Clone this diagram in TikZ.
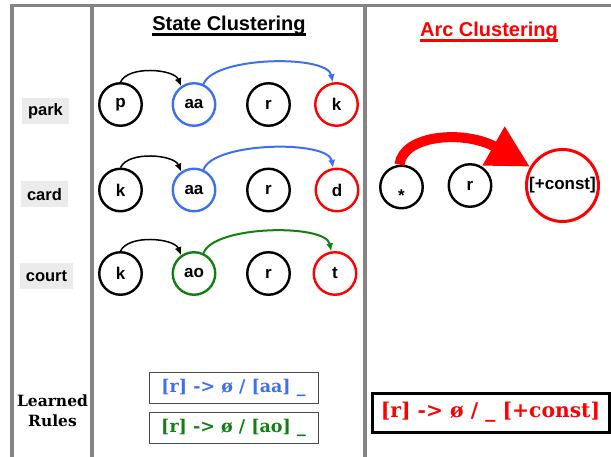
\documentclass[tikz,border=0pt]{standalone}
\usepackage{fontspec}
\newfontfamily\headfont{Liberation Sans}
\newfontfamily\rulefont{DejaVu Serif}
\usetikzlibrary{arrows.meta,calc}

\definecolor{framegray}{HTML}{858585}
\definecolor{stateblue}{RGB}{61,112,240}
\definecolor{stategreen}{RGB}{17,128,17}
\definecolor{labelgray}{HTML}{EBEBEB}
\definecolor{rulegray}{HTML}{4A4A4A}

\tikzset{
  framestroke/.style={draw=framegray,line width=3.6pt},
  heading/.style={anchor=base,inner sep=0pt,font=\headfont\bfseries\fontsize{20}{24}\selectfont},
  wordlabel/.style={fill=labelgray,minimum height=26pt,inner xsep=6pt,inner ysep=0pt,
    font=\headfont\bfseries\fontsize{16.5}{18}\selectfont},
  phone/.style={circle,draw=black,line width=2.4pt,minimum size=42.5pt,inner sep=0pt,
    font=\headfont\bfseries\fontsize{17}{17}\selectfont},
  bluephone/.style={phone,draw=stateblue},
  greenphone/.style={phone,draw=stategreen},
  redphone/.style={phone,draw=red},
  hop/.style={line width=1.5pt,-{Latex[length=8pt,width=7pt]}},
  rulebox/.style={draw=rulegray,line width=1pt,minimum width=169pt,minimum height=31pt,inner sep=0pt,
    font=\rulefont\bfseries\fontsize{17.5}{20}\selectfont},
}

\begin{document}
\begin{tikzpicture}[x=1pt,y=-1pt]
\useasboundingbox (0,0) rectangle (611,457);

% table frame
\draw[framestroke] (12,457) -- (12,5.6) -- (611,5.6);
\draw[framestroke] (92,5.6) -- (92,457);
\draw[framestroke] (365,5.6) -- (365,457);

% column headings
\node[heading] (sc) at (229,31) {State Clustering};
\draw[line width=2.6pt] ($(sc.base west)+(0,3.6)$) -- ($(sc.base east)+(0,3.6)$);
\node[heading,text=red] (ac) at (489,37) {Arc Clustering};
\draw[red,line width=2.6pt] ($(ac.base west)+(0,3.6)$) -- ($(ac.base east)+(0,3.6)$);

% words
\node[wordlabel] (park) at (45.5,111) {park};
\node[wordlabel] (card) at (44.5,194.5) {card};
\node[wordlabel] (court) at (46.5,276) {court};

% park
\node[phone] (p1) at (120.5,104.5) {p};
\node[bluephone] (v1) at (194,104.5) {aa};
\node[phone] (r1) at (268.5,104.5) {r};
\node[redphone] (c1) at (336.5,104.5) {k};
\draw[hop] (p1.north) .. controls +(8,-17) and +(-7,-17) .. (v1.125);
\draw[hop,stateblue,line width=2pt] (v1.65) .. controls +(10,-28) and +(-5,-28) .. (c1.100);

% card
\node[phone] (p2) at (120.5,190) {k};
\node[bluephone] (v2) at (194,190) {aa};
\node[phone] (r2) at (268.5,190) {r};
\node[redphone] (c2) at (337,190) {d};
\draw[hop] (p2.north) .. controls +(8,-17) and +(-7,-17) .. (v2.125);
\draw[hop,stateblue,line width=2pt] (v2.65) .. controls +(10,-28) and +(-5,-28) .. (c2.100);

% court
\node[phone] (p3) at (120.5,273.5) {k};
\node[greenphone] (v3) at (194,273.5) {ao};
\node[phone] (r3) at (268.5,273.5) {r};
\node[redphone] (c3) at (335,273.5) {t};
\draw[hop] (p3.north) .. controls +(8,-17) and +(-7,-17) .. (v3.125);
\draw[hop,stategreen,line width=2pt] (v3.65) .. controls +(10,-28) and +(-5,-28) .. (c3.100);

% arc clustering
\node[phone] (any) at (401.5,187) {\smash{\raisebox{-15pt}{*}}};
\node[phone] (ar) at (470,185.5) {r};
\node[redphone,line width=3pt,minimum size=72pt] (cons) at (562.5,185.5) {[+const]};
\draw[red,line width=10pt,-{Triangle[length=42pt,width=42pt]}]
  (any.95) .. controls +(3,-30) and +(-65,-37) .. (cons.150);

% learned rules
\node[align=center,inner sep=0pt,font=\rulefont\bfseries\fontsize{15.5}{20}\selectfont]
  (learned) at (52.5,411) {Learned\\Rules};
\node[rulebox,text=stateblue] (rule1) at (233.5,387.5) {[r] -> ø / [aa] \_};
\node[rulebox,text=stategreen] (rule2) at (233.5,427.5) {[r] -> ø / [ao] \_};
\node[draw=black,line width=3pt,minimum width=237pt,minimum height=39pt,inner sep=0pt,
  text=red,font=\rulefont\bfseries\fontsize{20.3}{22}\selectfont] (arcrule) at (490.5,412.5)
  {[r] -> ø / \_ [+const]};
\end{tikzpicture}
\end{document}
